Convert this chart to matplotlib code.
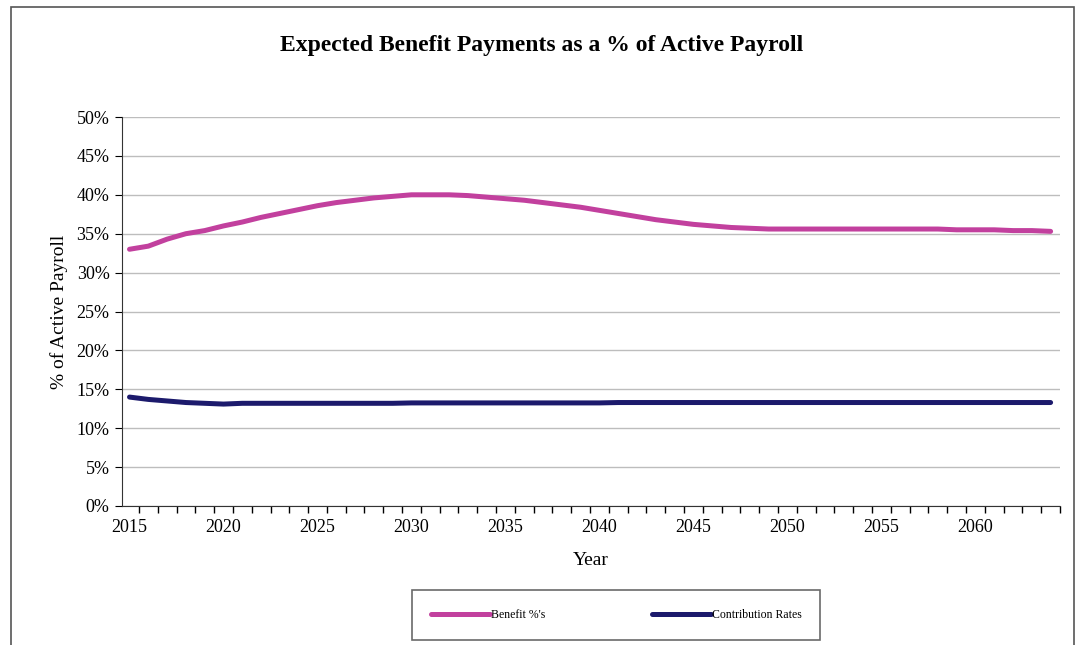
import numpy as np
import matplotlib.pyplot as plt
from matplotlib.patches import Rectangle
from matplotlib.ticker import FixedLocator, FuncFormatter

years = np.arange(2015, 2065)

benefit_pct = [
    33.0, 33.4, 34.3, 35.0, 35.4, 36.0, 36.5, 37.1, 37.6, 38.1,
    38.6, 39.0, 39.3, 39.6, 39.8, 40.0, 40.0, 40.0, 39.9, 39.7,
    39.5, 39.3, 39.0, 38.7, 38.4, 38.0, 37.6, 37.2, 36.8, 36.5,
    36.2, 36.0, 35.8, 35.7, 35.6, 35.6, 35.6, 35.6, 35.6, 35.6,
    35.6, 35.6, 35.6, 35.6, 35.5, 35.5, 35.5, 35.4, 35.4, 35.3,
]
contribution_pct = [
    14.0, 13.7, 13.5, 13.3, 13.2, 13.1, 13.2, 13.2, 13.2, 13.2,
    13.2, 13.2, 13.2, 13.2, 13.2, 13.25, 13.25, 13.25, 13.25, 13.25,
    13.25, 13.25, 13.25, 13.25, 13.25, 13.25, 13.3, 13.3, 13.3, 13.3,
    13.3, 13.3, 13.3, 13.3, 13.3, 13.3, 13.3, 13.3, 13.3, 13.3,
    13.3, 13.3, 13.3, 13.3, 13.3, 13.3, 13.3, 13.3, 13.3, 13.3,
]
label_years = [2015, 2020, 2025, 2030, 2035, 2040, 2045, 2050, 2055, 2060]

plt.rcParams["font.family"] = ["Liberation Serif", "DejaVu Serif"]

W, H = 1083, 645
fig = plt.figure(figsize=(W / 100, H / 100), dpi=100)

# outer chart frame
fig.patches.append(Rectangle((11 / W, -0.05), (1074 - 11) / W, 1.05 - 7 / H,
                             transform=fig.transFigure, fill=False,
                             edgecolor="#555555", linewidth=1.2))

ax = fig.add_axes([122 / W, 1 - 506 / H, (1060 - 122) / W, (506 - 117) / H])

ax.plot(years, benefit_pct, color="#C2409E", linewidth=3.6,
        solid_capstyle="round", label="Benefit %'s", zorder=3)
ax.plot(years, contribution_pct, color="#1C1A6C", linewidth=3.6,
        solid_capstyle="round", label="Contribution Rates", zorder=3)

ax.set_xlim(2014.6, 2064.5)
ax.set_ylim(0, 50)
ax.set_yticks(np.arange(0, 51, 5))
ax.yaxis.set_major_formatter(FuncFormatter(lambda v, p: f"{v:.0f}%"))
ax.xaxis.set_major_locator(FixedLocator(label_years))
ax.xaxis.set_minor_locator(FixedLocator(np.arange(2014.5, 2065, 1)))
ax.tick_params(axis="x", which="major", length=0, pad=9, labelsize=13)
ax.tick_params(axis="x", which="minor", length=5, direction="out", width=1)
ax.tick_params(axis="y", length=5, direction="out", labelsize=13, pad=4)

ax.grid(axis="y", color="#BDBDBD", linewidth=1)
ax.set_axisbelow(True)
for side in ("top", "right"):
    ax.spines[side].set_visible(False)
ax.spines["left"].set_color("#333333")
ax.spines["bottom"].set_color("#333333")

ax.set_xlabel("Year", fontsize=14, labelpad=12)
ax.set_ylabel("% of Active Payroll", fontsize=14, labelpad=6)
fig.text(0.5, 1 - 45 / H, "Expected Benefit Payments as a % of Active Payroll",
         ha="center", va="center", fontsize=17, fontweight="bold")

leg = fig.legend(loc="upper left", bbox_to_anchor=(412 / W, 1 - 590 / H),
                 ncol=2, fontsize=8.5, frameon=True, fancybox=False,
                 edgecolor="#444444", handlelength=5, columnspacing=9,
                 borderpad=1.6, borderaxespad=0, handletextpad=0.1)
leg.get_frame().set_linewidth(1.2)

fig.savefig("out.png", dpi=100)
